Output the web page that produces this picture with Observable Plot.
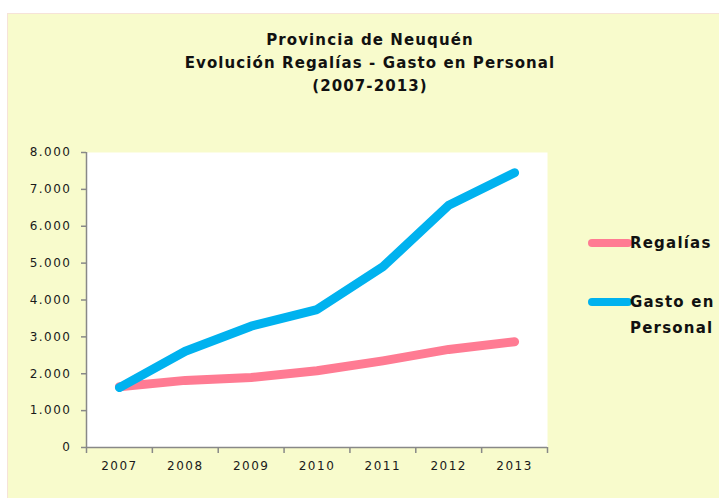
<!DOCTYPE html>
<html>
<head>
<meta charset="utf-8">
<script src="https://cdn.jsdelivr.net/npm/d3@7"></script>
<script src="https://cdn.jsdelivr.net/npm/@observablehq/plot@0.6"></script>
<style>
  html, body { margin: 0; padding: 0; background: #ffffff; }
  #page { position: relative; width: 719px; height: 498px; overflow: hidden; background: #fff; font-family: "DejaVu Sans", sans-serif; }
  #panel { position: absolute; left: 7px; top: 13px; width: 712px; height: 485px; background: #F8FBCC; border-top: 1px solid #F6E3D8; border-left: 1px solid #F6E3D8; }
  #title { position: absolute; left: 120px; width: 500px; top: 29px; text-align: center; font-weight: bold; font-size: 15px; letter-spacing: 1.1px; line-height: 23px; color: #111; font-family: "DejaVu Sans", sans-serif; }
  #chart { position: absolute; left: 0; top: 120px; }
  #chart svg text { letter-spacing: 1.5px; fill: #1a1a1a; }
  .leg { position: absolute; font-weight: bold; font-size: 15px; letter-spacing: 1.2px; color: #111; line-height: 26px; font-family: "DejaVu Sans", sans-serif; }
  .sw { position: absolute; height: 8px; border-radius: 4px; }
</style>
</head>
<body>
<div id="page">
  <div id="panel"></div>
  <div id="title">Provincia de Neuquén<br>Evolución Regalías - Gasto en Personal<br>(2007-2013)</div>
  <div id="chart"></div>
  <div id="legend"></div>
</div>
<script>
const years = [2007, 2008, 2009, 2010, 2011, 2012, 2013];
const regalias = [1650, 1820, 1900, 2080, 2350, 2660, 2870];
const gastoPersonal = [1625, 2610, 3290, 3740, 4900, 6570, 7450];
const seriesNames = ["Regalías", "Gasto en Personal"];
const seriesColors = ["#FF7B93", "#00B2EF"];
const yTicks = [0, 1000, 2000, 3000, 4000, 5000, 6000, 7000, 8000];

const data = [];
years.forEach((y, i) => {
  data.push({year: y, value: regalias[i], serie: seriesNames[0]});
  data.push({year: y, value: gastoPersonal[i], serie: seriesNames[1]});
});
// category boundaries (tick marks between years)
const bounds = years.map(y => y - 0.5).concat([years[years.length - 1] + 0.5]);

const fmt = d3.formatLocale({decimal: ",", thousands: ".", grouping: [3], currency: ["$", ""]}).format(",");

const plot = Plot.plot({
  width: 719,
  height: 378,
  marginLeft: 86,
  marginRight: 172,
  marginTop: 32,
  marginBottom: 51,
  style: {background: "transparent", fontFamily: "DejaVu Sans, sans-serif", fontSize: "12px", color: "#222"},
  x: {type: "linear", domain: [2006.5, 2013.5], label: null},
  y: {domain: [0, 8000], label: null},
  color: {domain: seriesNames, range: seriesColors},
  marks: [
    Plot.frame({fill: "#ffffff", stroke: null}),
    Plot.ruleX([2006.5], {stroke: "#888", strokeWidth: 1.5}),
    Plot.ruleY([0], {stroke: "#888", strokeWidth: 1.5}),
    Plot.axisX({ticks: bounds, tickFormat: () => "", tickSize: 6, stroke: "#888", strokeWidth: 1.5, strokeOpacity: 1}),
    Plot.axisX({ticks: years, tickFormat: d => String(d), tickSize: 0, tickPadding: 14}),
    Plot.axisY({ticks: yTicks, tickFormat: fmt, tickSize: 5, tickPadding: 10, stroke: "#888", strokeWidth: 1.5, strokeOpacity: 1}),
    Plot.line(data.filter(d => d.serie === seriesNames[0]), {x: "year", y: "value", stroke: "serie", strokeWidth: 9, strokeLinecap: "round", strokeLinejoin: "round"}),
    Plot.line(data.filter(d => d.serie === seriesNames[1]), {x: "year", y: "value", stroke: "serie", strokeWidth: 9, strokeLinecap: "round", strokeLinejoin: "round"})
  ]
});
document.getElementById("chart").appendChild(plot);

// Hand-built legend
const legend = document.getElementById("legend");
const legItems = [
  {name: "Regalías", color: seriesColors[0], top: 239, textTop: 230},
  {name: "Gasto en<br>Personal", color: seriesColors[1], top: 298, textTop: 289}
];
legItems.forEach(it => {
  const sw = document.createElement("div");
  sw.className = "sw";
  sw.style.left = "588px"; sw.style.width = "44px"; sw.style.top = it.top + "px";
  sw.style.background = it.color;
  legend.appendChild(sw);
  const t = document.createElement("div");
  t.className = "leg";
  t.style.left = "630px"; t.style.top = it.textTop + "px";
  t.innerHTML = it.name;
  legend.appendChild(t);
});
</script>
</body>
</html>
